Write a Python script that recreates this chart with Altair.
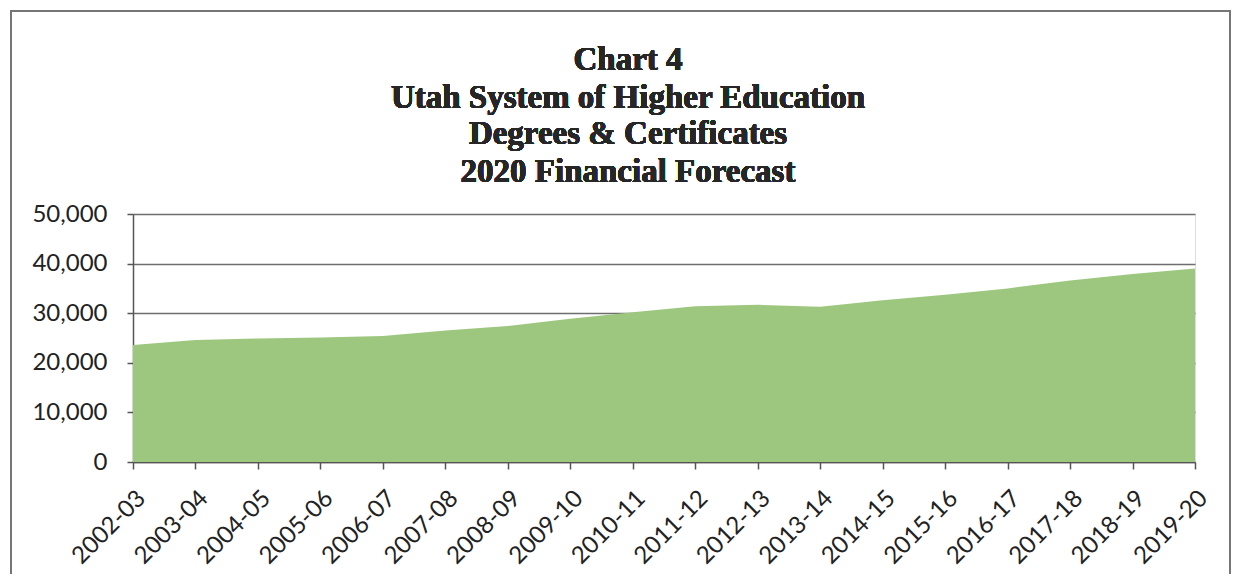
import altair as alt
import pandas as pd

years = ["2002-03", "2003-04", "2004-05", "2005-06", "2006-07", "2007-08",
         "2008-09", "2009-10", "2010-11", "2011-12", "2012-13", "2013-14",
         "2014-15", "2015-16", "2016-17", "2017-18", "2018-19", "2019-20"]
degrees = [23600, 24600, 24900, 25100, 25400, 26500, 27400, 28900, 30200,
           31400, 31700, 31300, 32600, 33700, 35000, 36600, 37900, 39000]
title_lines = ["Chart 4", "Utah System of Higher Education",
               "Degrees & Certificates", "2020 Financial Forecast"]
y_ticks = [0, 10000, 20000, 30000, 40000, 50000]

df = pd.DataFrame({"year": years, "degrees": degrees})

W, H = 1062, 248

area = alt.Chart(df).mark_area(color="#9DC77F", opacity=1).encode(
    x=alt.X("year:N", sort=years, title=None,
            scale=alt.Scale(type="point", padding=0),
            axis=alt.Axis(labelAngle=-45, labelFont="Lato", labelFontSize=24,
                          labelColor="#222", domainColor="#555", domainWidth=1.5,
                          tickColor="#555", tickSize=7, tickWidth=1.5,
                          labelPadding=17, grid=False)),
    y=alt.Y("degrees:Q", title=None,
            scale=alt.Scale(domain=[0, 50000], nice=False),
            axis=alt.Axis(values=y_ticks, format=",.0f", labelFont="Lato",
                          labelFontSize=24, labelColor="#222", domainColor="#555",
                          domainWidth=1.5, tickColor="#555", tickSize=6,
                          tickWidth=1.5, labelPadding=20, grid=True,
                          gridColor="#6e6e6e", gridWidth=1.6)),
)

frame = alt.Chart(df).mark_rect(fill=None, stroke="#777", strokeWidth=1.5).encode(
    x=alt.value(-122), x2=alt.value(1097), y=alt.value(-203), y2=alt.value(364)
)

title_y = [-144, -106, -70, -32]
title_layers = [
    alt.Chart(df).mark_text(text=t, font="Liberation Serif", fontSize=33,
                            fontWeight="bold", color="#262626", align="center",
                            baseline="alphabetic").encode(
        x=alt.value(495), y=alt.value(ty))
    for t, ty in zip(title_lines, title_y)
]

chart = alt.layer(area, frame, *title_layers).properties(
    width=W, height=H,
    autosize=alt.AutoSizeParams(type="none"),
    padding={"left": 125, "top": 206, "right": 38, "bottom": 112},
).configure_view(stroke=None).configure(background="white")

chart.save("out.html", embed_options={"renderer": "svg", "actions": False})
